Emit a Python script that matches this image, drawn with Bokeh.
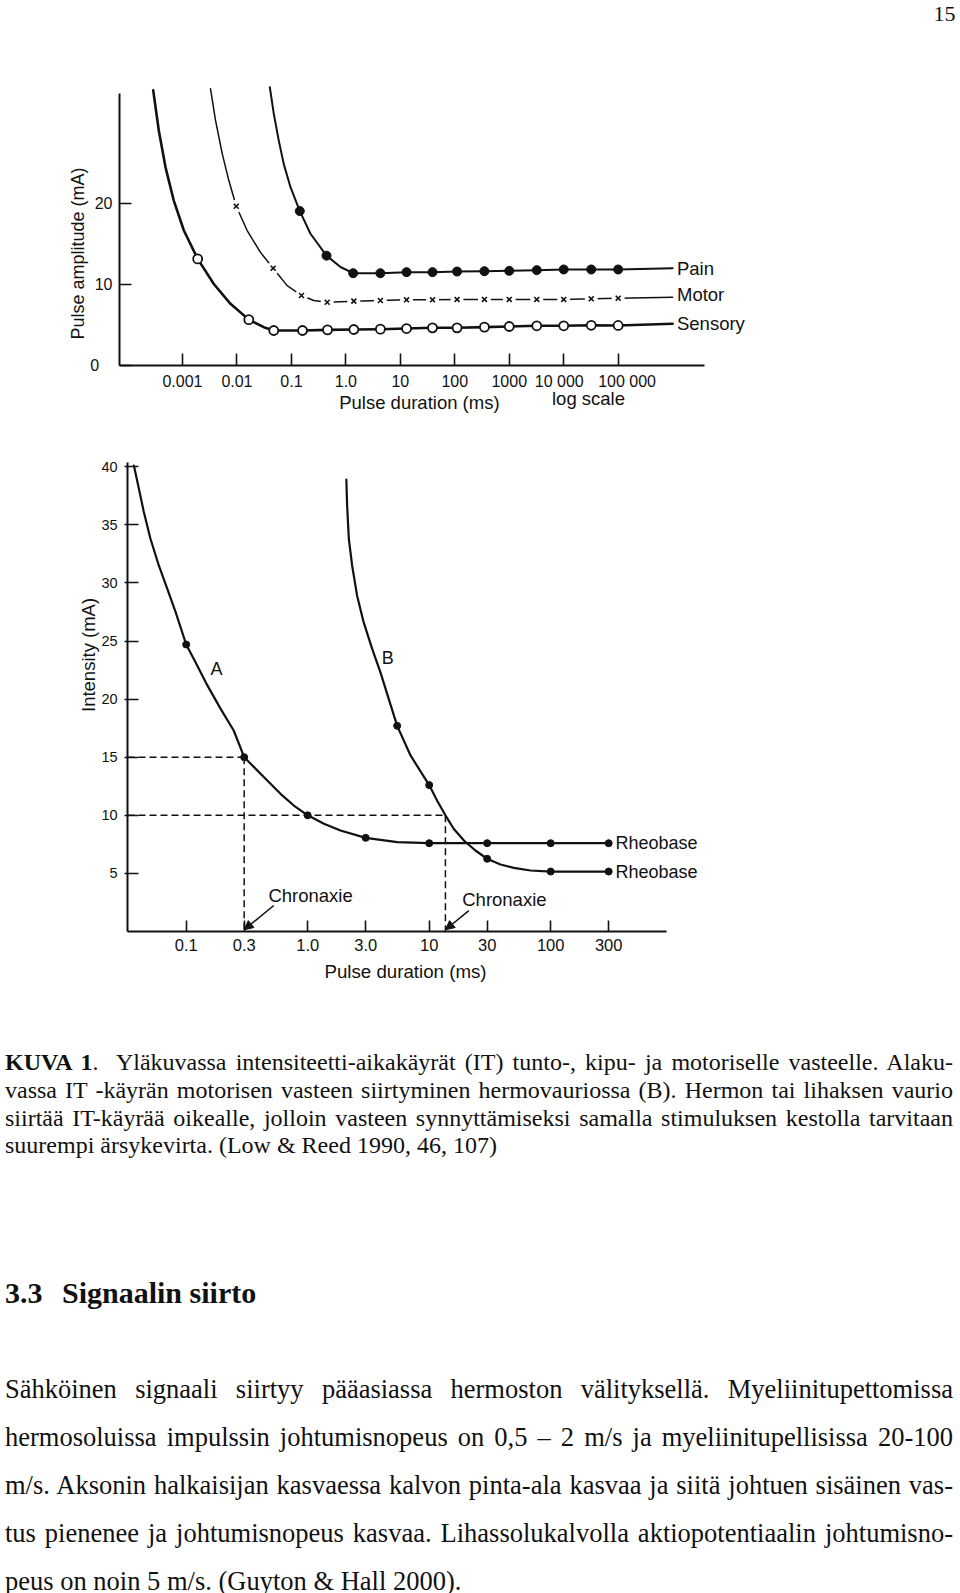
import math
from bokeh.plotting import figure
from bokeh.models import Range1d, FixedTicker, Label, Arrow, NormalHead, Div
from bokeh.layouts import column
from bokeh.embed import file_html
from bokeh.resources import INLINE

NB = "\u00a0"

# ---------------- data: upper chart (pulse duration ms, amplitude mA) ----------------
top_ticks = [0.001, 0.01, 0.1, 1.0, 10, 100, 1000, 10000, 100000]
top_tick_labels = ["0.001", "0.01", "0.1", "1.0", "10", "100", "1000", "10 000" + NB * 2, NB * 4 + "100 000"]
amp_ticks = [0, 10, 20]
amp_tick_labels = ["0" + NB * 3, "10", "20"]

sens_dur = [0.0019, 0.0165, 0.0474, 0.16, 0.46, 1.4, 4.3, 13, 39, 110, 350, 1000, 3200, 10000, 32000, 100000]
sens_amp = [13.2, 5.7, 4.36, 4.36, 4.44, 4.48, 4.52, 4.6, 4.69, 4.69, 4.77, 4.85, 4.94, 4.94, 5.0, 4.98]
sens_trace_dur = [0.00029, 0.000367, 0.000488, 0.000692, 0.00106, 0.0019, 0.00376, 0.0076, 0.0165, 0.0311, 0.0474]
sens_trace_amp = [34.0, 29.05, 24.5, 20.4, 16.7, 13.2, 10.1, 7.65, 5.7, 4.77, 4.36]
sens_end = (1e6, 5.19)

motor_dur = [0.0097, 0.0462, 0.153, 0.454, 1.4, 4.3, 13, 39, 110, 350, 1000, 3200, 10000, 32000, 100000]
motor_amp = [19.7, 12.05, 8.68, 7.85, 7.98, 8.06, 8.15, 8.15, 8.19, 8.19, 8.19, 8.19, 8.19, 8.27, 8.35]
motor_trace_dur = [0.00327, 0.00404, 0.00536, 0.00708, 0.0097, 0.0154, 0.027, 0.0462, 0.0836, 0.153, 0.258, 0.454]
motor_trace_amp = [34.2, 30.3, 26.2, 22.9, 19.7, 16.7, 14.0, 12.05, 9.9, 8.68, 8.06, 7.85]
motor_end = (1e6, 8.47)

pain_dur = [0.1426, 0.441, 1.36, 4.3, 13, 39, 110, 350, 1000, 3200, 10000, 32000, 100000]
pain_amp = [19.1, 13.6, 11.43, 11.43, 11.56, 11.56, 11.64, 11.68, 11.72, 11.81, 11.89, 11.89, 11.89]
pain_trace_dur = [0.0401, 0.0475, 0.0586, 0.0724, 0.0962, 0.1426, 0.224, 0.441, 0.796, 1.36]
pain_trace_amp = [34.4, 31.1, 27.8, 24.9, 22.05, 19.1, 16.3, 13.6, 12.2, 11.43]
pain_end = (1e6, 12.05)

series_names = ["Pain", "Motor", "Sensory"]
series_label_amp = [12.0, 8.8, 5.2]

# ---------------- data: lower chart ----------------
low_ticks = [0.1, 0.3, 1.0, 3.0, 10, 30, 100, 300]
low_tick_labels = ["0.1", "0.3", "1.0", "3.0", "10", "30", "100", "300"]
int_ticks = [5, 10, 15, 20, 25, 30, 35, 40]
int_tick_labels = [str(v) for v in int_ticks]

a_dur = [0.1, 0.3, 1.0, 3.0, 10, 30, 100, 300]
a_amp = [24.7, 15.0, 10.0, 8.06, 7.6, 7.6, 7.6, 7.6]
a_trace_dur = [0.0371, 0.0408, 0.0448, 0.0508, 0.0595, 0.0698, 0.0817, 0.1, 0.119, 0.149, 0.191,
               0.246, 0.3, 0.435, 0.597, 0.769, 1.0, 1.36, 1.86, 3.0, 5.46, 10, 30, 100, 300]
a_trace_amp = [40.1, 38.1, 36.1, 33.8, 31.5, 29.5, 27.5, 24.7, 23.2, 21.2, 19.2,
               17.3, 15.0, 13.3, 11.85, 10.84, 10.0, 9.27, 8.69, 8.06, 7.69, 7.6, 7.6, 7.6, 7.6]

b_dur = [5.45, 10, 30, 100, 300]
b_amp = [17.7, 12.6, 6.26, 5.16, 5.16]
b_trace_dur = [2.08, 2.11, 2.18, 2.32, 2.55, 2.89, 3.40, 3.97, 4.65, 5.45, 7.02, 10, 11.6, 13.6,
               15.9, 19.3, 24.0, 30, 38.6, 49.7, 68.2, 100, 300]
b_trace_amp = [38.9, 36.7, 33.8, 31.5, 28.9, 26.6, 24.3, 22.3, 20.0, 17.7, 15.15, 12.6, 11.27, 10.0,
               8.84, 7.83, 6.97, 6.26, 5.77, 5.48, 5.25, 5.16, 5.16]

chron_dur = [0.3, 13.6]
chron_amp = [15, 10]
rheobase = [7.6, 5.16]

FONT = "Liberation Sans"
INK = "#111111"


def style_axes(p, xloc, yloc, xb, yb, x_ticks, x_labels, y_ticks, y_labels,
               ytick_in, ytick_out, xtick_in, xsize, ysize):
    p.grid.visible = False
    p.outline_line_color = None
    p.background_fill_color = "white"
    p.border_fill_color = "white"
    p.title.visible = False
    xa, ya = p.xaxis[0], p.yaxis[0]
    xa.fixed_location = xloc
    ya.fixed_location = yloc
    xa.ticker = FixedTicker(ticks=x_ticks, minor_ticks=[])
    xa.major_label_overrides = {t: l for t, l in zip(x_ticks, x_labels)}
    ya.ticker = FixedTicker(ticks=y_ticks, minor_ticks=[])
    ya.major_label_overrides = {t: l for t, l in zip(y_ticks, y_labels)}
    xa.bounds = xb
    ya.bounds = yb
    for ax in (xa, ya):
        ax.axis_line_width = 2
        ax.axis_line_color = INK
        ax.major_tick_line_width = 1.6
        ax.major_tick_line_color = INK
        ax.minor_tick_line_color = None
        ax.major_label_text_font = FONT
        ax.major_label_text_color = INK
    xa.major_tick_in = xtick_in
    xa.major_tick_out = 0
    xa.major_label_standoff = 7
    xa.major_label_text_font_size = xsize
    ya.major_tick_in = ytick_in
    ya.major_tick_out = ytick_out
    ya.major_label_standoff = 7
    ya.major_label_text_font_size = ysize


def add_label(p, x, y, text, size="18px", align="center", baseline="middle", angle=0.0, font=FONT):
    p.add_layout(Label(x=x, y=y, text=text, text_font=font, text_font_size=size,
                       text_align=align, text_baseline=baseline, angle=angle,
                       text_color=INK))


# ---------------- upper figure (frame = whole canvas) ----------------
p1 = figure(width=960, height=440, x_axis_type="log", output_backend="svg", toolbar_location=None,
            x_range=Range1d(10 ** -6.3419, 10 ** 11.2859), y_range=Range1d(-9.222, 45.099),
            min_border=0, min_border_left=0, min_border_right=0, min_border_top=0, min_border_bottom=0)
style_axes(p1, 0, 10 ** -4.157, (10 ** -4.157, 10 ** 6.58), (0, 33.65),
           top_ticks, top_tick_labels, amp_ticks, amp_tick_labels, 12, 0, 12, "16px", "16px")

lk = dict(line_color=INK, line_join="round", line_cap="round")
# Sensory
p1.line(sens_trace_dur + sens_dur[3:] + [sens_end[0]], sens_trace_amp + sens_amp[3:] + [sens_end[1]],
        line_width=2.6, **lk)
p1.scatter(sens_dur, sens_amp, marker="circle", size=9, fill_color="white", line_color=INK, line_width=1.8)
# Motor
p1.line(motor_trace_dur + motor_dur[4:] + [motor_end[0]], motor_trace_amp + motor_amp[4:] + [motor_end[1]],
        line_width=1.5, **lk)
p1.scatter(motor_dur, motor_amp, marker="circle", size=13, fill_color="white", line_color=None)
p1.scatter(motor_dur, motor_amp, marker="x", size=7, line_color=INK, line_width=1.6)
# Pain
p1.line(pain_trace_dur + pain_dur[3:] + [pain_end[0]], pain_trace_amp + pain_amp[3:] + [pain_end[1]],
        line_width=2.0, **lk)
p1.scatter(pain_dur, pain_amp, marker="circle", size=9, fill_color=INK, line_color=INK)

for name, yv in zip(series_names, series_label_amp):
    add_label(p1, 10 ** 6.08, yv, name, size="18.5px", align="left")

add_label(p1, 10 ** -4.91, 13.86, "Pulse amplitude (mA)", size="18px", angle=math.pi / 2)
add_label(p1, 10 ** 1.35, -4.57, "Pulse duration (ms)", size="18.5px")
add_label(p1, 10 ** 4.455, -4.07, "log scale", size="18.5px")
add_label(p1, 10 ** 11.194, 43.4, "15", size="22px", align="right", baseline="alphabetic",
          font="Liberation Serif")

# ---------------- lower figure (frame = whole canvas) ----------------
x_left = 10 ** -1.483
p2 = figure(width=960, height=560, x_axis_type="log", output_backend="svg", toolbar_location=None,
            x_range=Range1d(10 ** -2.5284, 10 ** 5.3728), y_range=Range1d(-5.938, 42.255),
            min_border=0, min_border_left=0, min_border_right=0, min_border_top=0, min_border_bottom=0)
style_axes(p2, 0, x_left, (x_left, 10 ** 2.95), (0, 40.4),
           low_ticks, low_tick_labels, int_ticks, int_tick_labels, 11, 3, 11, "16.5px", "14.5px")

p2.segment(x0=[x_left, x_left] + chron_dur, y0=chron_amp + chron_amp,
           x1=chron_dur + chron_dur, y1=chron_amp + [0, 0],
           line_dash="7 4", line_width=1.5, line_color=INK)

p2.line(a_trace_dur, a_trace_amp, line_width=2.2, **lk)
p2.scatter(a_dur, a_amp, marker="circle", size=7, fill_color=INK, line_color=INK)
p2.line(b_trace_dur, b_trace_amp, line_width=2.2, **lk)
p2.scatter(b_dur, b_amp, marker="circle", size=7, fill_color=INK, line_color=INK)

add_label(p2, 0.178, 22.6, "A")
add_label(p2, 4.56, 23.5, "B")
for yv in rheobase:
    add_label(p2, 341, yv, "Rheobase", size="18px", align="left")
add_label(p2, 0.475, 3.1, "Chronaxie", size="18.5px", align="left")
add_label(p2, 18.7, 2.73, "Chronaxie", size="18.5px", align="left")
for (xs, ys), xe in zip([(0.526, 2.24), (21.2, 1.8)], chron_dur):
    p2.add_layout(Arrow(end=NormalHead(size=9, fill_color=INK, line_color=INK, line_width=1),
                        x_start=xs, y_start=ys, x_end=xe, y_end=0.15,
                        line_width=1.5, line_color=INK))

add_label(p2, 10 ** -1.804, 23.8, "Intensity (mA)", size="18.5px", angle=math.pi / 2)
add_label(p2, 10 ** 0.805, -3.44, "Pulse duration (ms)", size="18.7px")

# ---------------- text ----------------
caption = [
    "<b>KUVA 1</b>.&nbsp; Yläkuvassa intensiteetti-aikakäyrät (IT) tunto-, kipu- ja motoriselle vasteelle. Alaku-",
    "vassa IT -käyrän motorisen vasteen siirtyminen hermovauriossa (B). Hermon tai lihaksen vaurio",
    "siirtää IT-käyrää oikealle, jolloin vasteen synnyttämiseksi samalla stimuluksen kestolla tarvitaan",
    "suurempi ärsykevirta. (Low &amp; Reed 1990, 46, 107)",
]
body = [
    "Sähköinen signaali siirtyy pääasiassa hermoston välityksellä. Myeliinitupettomissa",
    "hermosoluissa impulssin johtumisnopeus on 0,5 – 2 m/s ja myeliinitupellisissa 20-100",
    "m/s. Aksonin halkaisijan kasvaessa kalvon pinta-ala kasvaa ja siitä johtuen sisäinen vas-",
    "tus pienenee ja johtumisnopeus kasvaa. Lihassolukalvolla aktiopotentiaalin johtumisno-",
    "peus on noin 5 m/s. (Guyton &amp; Hall 2000).",
]


def text_line(txt, top, size, last=False, bold=False):
    al = "left" if last else "justify"
    return (f'<div style="position:absolute;left:5px;top:{top:.1f}px;width:948px;'
            f'font-family:\'Liberation Serif\';font-size:{size}px;line-height:{size}px;'
            f'font-weight:{"bold" if bold else "normal"};color:#111;'
            f'text-align:{al};text-align-last:{al};">{txt}</div>')


parts = []
cap_size = 24
for i, t in enumerate(caption):
    top = 1070 + i * 27.8 - 0.8375 * cap_size - 1000
    parts.append(text_line(t, top, cap_size, last=(i == len(caption) - 1)))
head_size = 30
parts.append(text_line('<span style="display:inline-block;width:57px">3.3</span>Signaalin siirto',
                       1303 - 0.8375 * head_size - 1000, head_size, last=True, bold=True))
body_size = 26.5
for i, t in enumerate(body):
    top = 1398 + i * 48 - 0.8375 * body_size - 1000
    parts.append(text_line(t, top, body_size, last=(i == len(body) - 1)))

html = '<div style="position:relative;width:960px;height:593px;">' + "".join(parts) + "</div>"
div = Div(text=html, width=960, height=593, margin=0)

layout = column(p1, p2, div, spacing=0)
open("out.html", "w").write(file_html(layout, INLINE))
